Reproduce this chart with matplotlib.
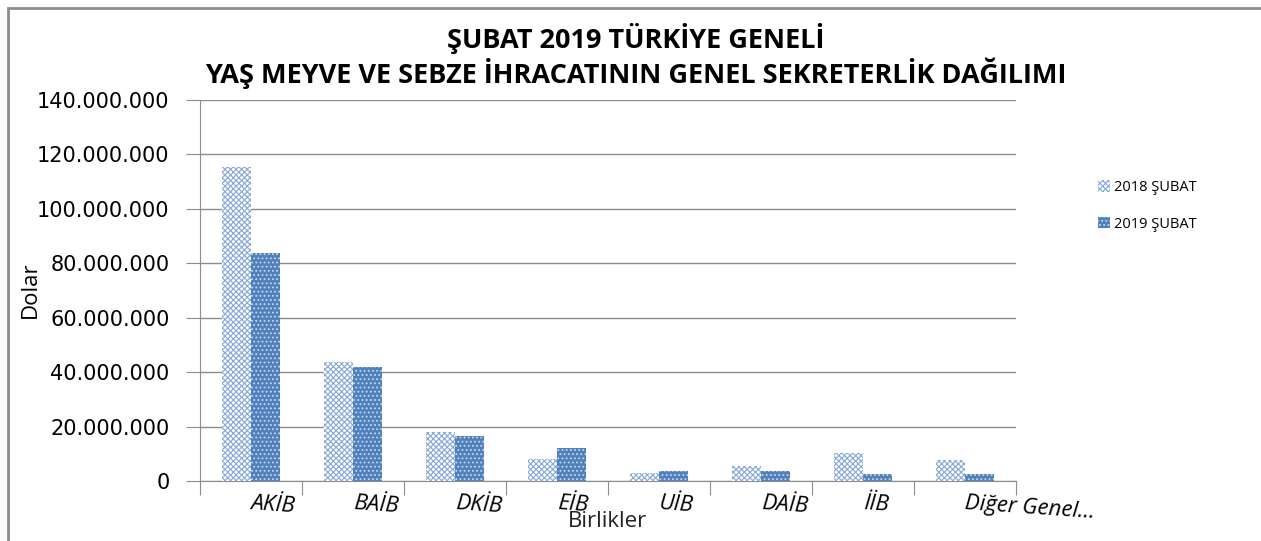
import matplotlib.pyplot as plt
import matplotlib.ticker as mticker
import numpy as np
from matplotlib.patches import Patch, Rectangle

# values (Dolar)
birlikler = ['AKİB', 'BAİB', 'DKİB', 'EİB', 'UİB', 'DAİB', 'İİB', 'Diğer Genel...']
subat_2018 = [115300000, 43700000, 18100000, 8200000, 3000000, 5600000, 10200000, 7600000]
subat_2019 = [83600000, 41800000, 16500000, 12000000, 3500000, 3500000, 2500000, 2400000]

plt.rcParams['font.family'] = ['Open Sans', 'DejaVu Sans']
plt.rcParams['hatch.linewidth'] = 0.8

fig = plt.figure(figsize=(12.61, 5.41), dpi=100)
ax = fig.add_axes([200 / 1261, 60 / 541, 816 / 1261, 381 / 541])

# outer frame like the spreadsheet chart area
fig.patches.append(Rectangle((8 / 1261, -0.1), 1.2, (541 - 8) / 541 + 0.1,
                             transform=fig.transFigure, fill=False,
                             edgecolor='#8c8c8c', linewidth=2))

x = np.arange(len(birlikler))
w = 0.285
ax.bar(x - w / 2, subat_2018, w, facecolor='white', edgecolor='#86a7d8',
       hatch='xxxxxx', linewidth=0, label='2018 ŞUBAT', zorder=3)
ax.bar(x + w / 2, subat_2019, w, facecolor='#4f81bd', edgecolor='#c9d8ee',
       hatch='....', linewidth=0, label='2019 ŞUBAT', zorder=3)

ax.set_xlim(-0.5, len(birlikler) - 0.5)
ax.set_ylim(0, 140000000)
ax.yaxis.set_major_locator(mticker.MultipleLocator(20000000))
ax.yaxis.set_major_formatter(mticker.FuncFormatter(lambda v, p: f'{int(v):,}'.replace(',', '.')))
ax.grid(axis='y', color='#8c8c8c', linewidth=1, zorder=0)

for s in ['top', 'right']:
    ax.spines[s].set_visible(False)
for s in ['left', 'bottom']:
    ax.spines[s].set_color('#8c8c8c')

ax.tick_params(axis='y', length=10, color='#8c8c8c', labelsize=15, pad=12)
for t in ax.get_yticklabels():
    t.set_family('DejaVu Sans')

# category boundary ticks, labels start at the category centre
ax.set_xticks(np.arange(len(birlikler) + 1) - 0.5)
ax.set_xticklabels([])
ax.tick_params(axis='x', length=10, color='#8c8c8c')
for i, name in enumerate(birlikler):
    ax.text(i, -0.06, name, transform=ax.get_xaxis_transform(), fontsize=16,
            style='italic', ha='left', va='center', rotation=-4,
            rotation_mode='anchor')

ax.text(0.5, -0.105, 'Birlikler', transform=ax.transAxes, ha='center',
        va='center', fontsize=16, color='#222222')
fig.text(30 / 1261, 1 - 290 / 541, 'Dolar', rotation=90, ha='center',
         va='center', fontsize=16)

fig.text(636 / 1261, 1 - 38 / 541, 'ŞUBAT 2019 TÜRKİYE GENELİ', ha='center',
         va='center', fontsize=19.5, fontweight='bold')
fig.text(636 / 1261, 1 - 73 / 541, 'YAŞ MEYVE VE SEBZE İHRACATININ GENEL SEKRETERLİK DAĞILIMI',
         ha='center', va='center', fontsize=19.5, fontweight='bold')

handles = [Patch(facecolor='white', edgecolor='#86a7d8', hatch='xxxxxx', linewidth=0),
           Patch(facecolor='#4f81bd', edgecolor='#c9d8ee', hatch='....', linewidth=0)]
fig.legend(handles, ['2018 ŞUBAT', '2019 ŞUBAT'], loc='center left',
           bbox_to_anchor=(1085 / 1261, 1 - 206 / 541), frameon=False,
           fontsize=10.5, handlelength=0.8, handleheight=0.8, handletextpad=0.3,
           labelspacing=1.5)

fig.savefig('out.png', dpi=100)
